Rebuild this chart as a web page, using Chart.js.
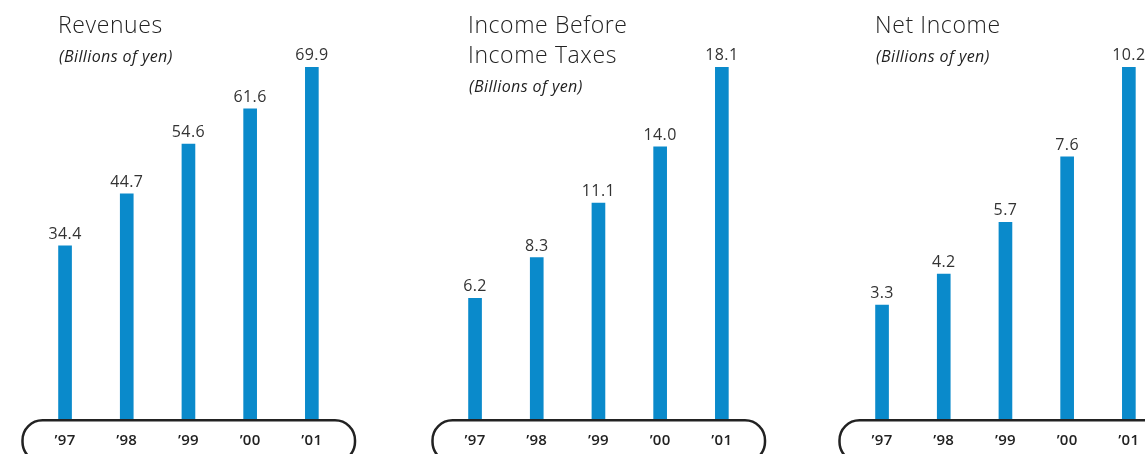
<!DOCTYPE html>
<html>
<head>
<meta charset="utf-8">
<script src="https://cdn.jsdelivr.net/npm/chart.js@4"></script>
<style>
  html, body { margin: 0; padding: 0; background: #fff; overflow: hidden; width: 1145px; height: 454px; }
  .panel { position: absolute; top: 0; width: 400px; height: 454px; }
</style>
</head>
<body>
<div class="panel" style="left:0px"><canvas id="c1" width="400" height="454"></canvas></div>
<div class="panel" style="left:410px"><canvas id="c2" width="400" height="454"></canvas></div>
<div class="panel" style="left:817px"><canvas id="c3" width="400" height="454"></canvas></div>
<script>
// Fiscal years shown on every panel
const years = ["\u201997", "\u201998", "\u201999", "\u201900", "\u201901"];

// Billions of yen
const revenues = [34.4, 44.7, 54.6, 61.6, 69.9];
const incomeBeforeTaxes = [6.2, 8.3, 11.1, 14.0, 18.1];
const netIncome = [3.3, 4.2, 5.7, 7.6, 10.2];

const revenuesTitle = ["Revenues"];
const incomeBeforeTaxesTitle = ["Income Before", "Income Taxes"];
const netIncomeTitle = ["Net Income"];
const unitNote = "(Billions of yen)";

const BAR_COLOR = "#0a8acb";
const INK = "#222222";
const FONT = "'Open Sans', 'Noto Sans', sans-serif";

// Draws the panel heading, value labels and the rounded year band
const panelDecor = {
  id: "panelDecor",
  afterDatasetsDraw(chart, args, opts) {
    const ctx = chart.ctx;
    const xs = chart.scales.x;
    ctx.save();

    // heading lines
    ctx.fillStyle = INK;
    ctx.textAlign = "left";
    ctx.textBaseline = "alphabetic";
    ctx.font = "300 23px " + FONT;
    ctx.letterSpacing = "0.6px";
    let y = 33;
    opts.title.forEach(line => { ctx.fillText(line, 58, y); y += 30; });
    ctx.font = "italic 16px " + FONT;
    ctx.letterSpacing = "0.4px";
    ctx.fillText(unitNote, 59, y - 1);

    // value above each bar
    const meta = chart.getDatasetMeta(0);
    ctx.font = "16px " + FONT;
    ctx.letterSpacing = "0.4px";
    ctx.fillStyle = "#333";
    ctx.textAlign = "center";
    meta.data.forEach((bar, i) => {
      const v = chart.data.datasets[0].data[i];
      ctx.fillText(v.toFixed(1), bar.x, bar.y - 7);
    });

    // rounded band holding the year labels
    const left = 22.5, right = 355, top = 420.3, bottom = 462, r = 20;
    ctx.beginPath();
    ctx.moveTo(left + r, top);
    ctx.lineTo(right - r, top);
    ctx.arcTo(right, top, right, top + r, r);
    ctx.lineTo(right, bottom - r);
    ctx.arcTo(right, bottom, right - r, bottom, r);
    ctx.lineTo(left + r, bottom);
    ctx.arcTo(left, bottom, left, bottom - r, r);
    ctx.lineTo(left, top + r);
    ctx.arcTo(left, top, left + r, top, r);
    ctx.closePath();
    ctx.lineWidth = 2.5;
    ctx.strokeStyle = INK;
    ctx.stroke();

    // year labels
    ctx.font = "600 15px " + FONT;
    ctx.letterSpacing = "0.3px";
    ctx.fillStyle = INK;
    ctx.textBaseline = "middle";
    chart.data.labels.forEach((lab, i) => {
      ctx.fillText(lab, xs.getPixelForValue(i), 441);
    });
    ctx.restore();
  }
};

function makePanel(id, values, title) {
  return new Chart(document.getElementById(id), {
    type: "bar",
    data: {
      labels: years,
      datasets: [{ data: values, backgroundColor: BAR_COLOR, borderWidth: 0, barThickness: 13 }]
    },
    options: {
      responsive: false,
      animation: false,
      layout: { padding: { left: 34.2, right: 57.3, top: 67, bottom: 35 } },
      scales: {
        x: { display: false },
        y: { display: false, min: 0, max: Math.max(...values) }
      },
      plugins: {
        legend: { display: false },
        tooltip: { enabled: false },
        panelDecor: { title: title }
      }
    },
    plugins: [panelDecor]
  });
}

makePanel("c1", revenues, revenuesTitle);
makePanel("c2", incomeBeforeTaxes, incomeBeforeTaxesTitle);
makePanel("c3", netIncome, netIncomeTitle);
</script>
</body>
</html>
